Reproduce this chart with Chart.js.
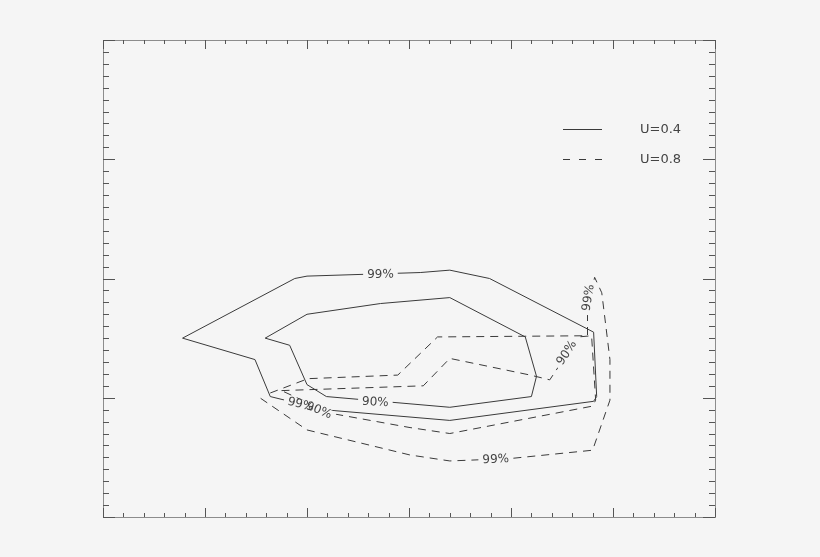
<!DOCTYPE html>
<html>
<head>
<meta charset="utf-8">
<script src="https://cdn.jsdelivr.net/npm/chart.js@4"></script>
<style>
  html, body { margin: 0; padding: 0; background: #f5f5f5; }
  #wrap { width: 820px; height: 557px; }
</style>
</head>
<body>
<div id="wrap"><canvas id="myChart" width="820" height="557"></canvas></div>
<script>
/* global Chart */
{
  // contour data (x 0..6, y 0..4)
  const solid99X = [0.78, 1.88, 2.00, 3.11, 3.40, 3.79, 4.81, 4.84, 4.81, 3.40, 2.16, 1.64, 1.49, 0.78];
  const solid99Y = [1.50, 2.00, 2.02, 2.05, 2.07, 2.00, 1.55, 1.01, 0.97, 0.81, 0.90, 1.01, 1.32, 1.50];

  const solid90X = [1.59, 2.00, 2.72, 3.40, 4.14, 4.25, 4.20, 3.40, 2.19, 2.00, 1.83, 1.59];
  const solid90Y = [1.50, 1.70, 1.79, 1.84, 1.51, 1.18, 1.01, 0.92, 1.01, 1.11, 1.44, 1.50];

  const dashed99X = [1.64, 2.01, 2.89, 3.28, 4.75, 4.75, 4.82, 4.89, 4.97, 4.97, 4.80, 3.99, 3.40, 3.01, 2.00, 1.52];
  const dashed99Y = [1.04, 1.16, 1.19, 1.51, 1.52, 1.74, 2.01, 1.88, 1.32, 0.98, 0.56, 0.49, 0.47, 0.52, 0.73, 1.01];

  const dashed90X = [1.75, 3.14, 3.40, 4.19, 4.38, 4.66, 4.79, 4.83, 4.80, 3.40, 3.01, 2.23, 1.75];
  const dashed90Y = [1.06, 1.10, 1.33, 1.19, 1.15, 1.51, 1.52, 0.98, 0.93, 0.70, 0.75, 0.87, 1.06];

  // contour labels
  const labelText = ['99%', '90%', '99%', '90%', '99%', '90%', '99%'];
  const labelX = [2.72, 2.67, 1.94, 2.12, 4.75, 4.54, 3.85];
  const labelY = [2.04, 0.97, 0.95, 0.90, 1.84, 1.38, 0.49];
  const labelAngle = [-1, 3, 14, 22, -81, -57, -2];

  // legend
  const seriesNames = ['U=0.4', 'U=0.8'];

  const BG = '#f5f5f5';
  const INK = '#3a3a3a';

  function pts(xs, ys) {
    return xs.map(function (x, i) { return { x: x, y: ys[i] }; });
  }

  function line(label, xs, ys, dashed) {
    return {
      label: label,
      data: pts(xs, ys),
      borderColor: INK,
      borderWidth: 1,
      borderDash: dashed ? [8, 6] : [],
      pointRadius: 0,
      tension: 0,
      fill: false
    };
  }

  const contourLabels = {
    id: 'contourLabels',
    afterDatasetsDraw(chart) {
      const { ctx, scales: { x, y } } = chart;
      ctx.save();
      ctx.font = '12px "DejaVu Sans"';
      ctx.textAlign = 'center';
      ctx.textBaseline = 'middle';
      // blank the line behind each label first
      labelText.forEach(function (t, i) {
        const w = ctx.measureText(t).width + 8;
        ctx.save();
        ctx.translate(x.getPixelForValue(labelX[i]), y.getPixelForValue(labelY[i]));
        ctx.rotate(labelAngle[i] * Math.PI / 180);
        ctx.fillStyle = BG;
        ctx.fillRect(-w / 2, -4, w, 8);
        ctx.restore();
      });
      labelText.forEach(function (t, i) {
        ctx.save();
        ctx.translate(x.getPixelForValue(labelX[i]), y.getPixelForValue(labelY[i]));
        ctx.rotate(labelAngle[i] * Math.PI / 180);
        ctx.fillStyle = '#444';
        ctx.fillText(t, 0, 1);
        ctx.restore();
      });
      ctx.restore();
    }
  };

  const frame = {
    id: 'frame',
    afterDraw(chart) {
      const { ctx, chartArea: a, scales: { x, y } } = chart;
      ctx.save();
      ctx.lineWidth = 1;
      ctx.strokeStyle = '#8c8c8c';
      ctx.strokeRect(a.left + 0.5, a.top + 0.5, a.right - a.left, a.bottom - a.top);

      ctx.strokeStyle = '#555';
      ctx.beginPath();
      // x ticks: major every 1, minor every 0.2
      for (let i = 0; i <= 30; i++) {
        const px = Math.round(x.getPixelForValue(i * 0.2)) + 0.5;
        const len = i % 5 === 0 ? 9 : 4;
        ctx.moveTo(px, a.bottom);
        ctx.lineTo(px, a.bottom - len);
        ctx.moveTo(px, a.top);
        ctx.lineTo(px, a.top + len);
      }
      // y ticks: major every 1, minor every 0.1
      for (let i = 0; i <= 40; i++) {
        const py = Math.round(y.getPixelForValue(i * 0.1)) + 0.5;
        const len = i % 10 === 0 ? 12 : 6;
        ctx.moveTo(a.left, py);
        ctx.lineTo(a.left + len, py);
        ctx.moveTo(a.right, py);
        ctx.lineTo(a.right - len, py);
      }
      ctx.stroke();

      // legend
      ctx.font = '13px "DejaVu Sans"';
      ctx.textBaseline = 'middle';
      ctx.textAlign = 'left';
      seriesNames.forEach(function (name, i) {
        const py = Math.round(a.top + 89 + i * 30) + 0.5;
        ctx.strokeStyle = INK;
        ctx.setLineDash(i === 0 ? [] : [7, 9]);
        ctx.beginPath();
        ctx.moveTo(a.left + 460, py);
        ctx.lineTo(a.left + 499, py);
        ctx.stroke();
        ctx.setLineDash([]);
        ctx.fillStyle = '#444';
        ctx.fillText(name, a.left + 537, py);
      });
      ctx.restore();
    }
  };

  const ctx = document.getElementById('myChart').getContext('2d');

  const chart = new Chart(ctx, {
    type: 'line',
    data: {
      datasets: [
        line('U=0.4 99%', solid99X, solid99Y, false),
        line('U=0.4 90%', solid90X, solid90Y, false),
        line('U=0.8 99%', dashed99X, dashed99Y, true),
        line('U=0.8 90%', dashed90X, dashed90Y, true)
      ]
    },
    options: {
      responsive: false,
      animation: false,
      layout: { padding: { left: 103, right: 105, top: 40, bottom: 40 } },
      scales: {
        x: { type: 'linear', min: 0, max: 6, display: false },
        y: { type: 'linear', min: 0, max: 4, display: false }
      },
      plugins: {
        legend: { display: false },
        tooltip: { enabled: false }
      }
    },
    plugins: [contourLabels, frame]
  });
}
</script>
</body>
</html>
